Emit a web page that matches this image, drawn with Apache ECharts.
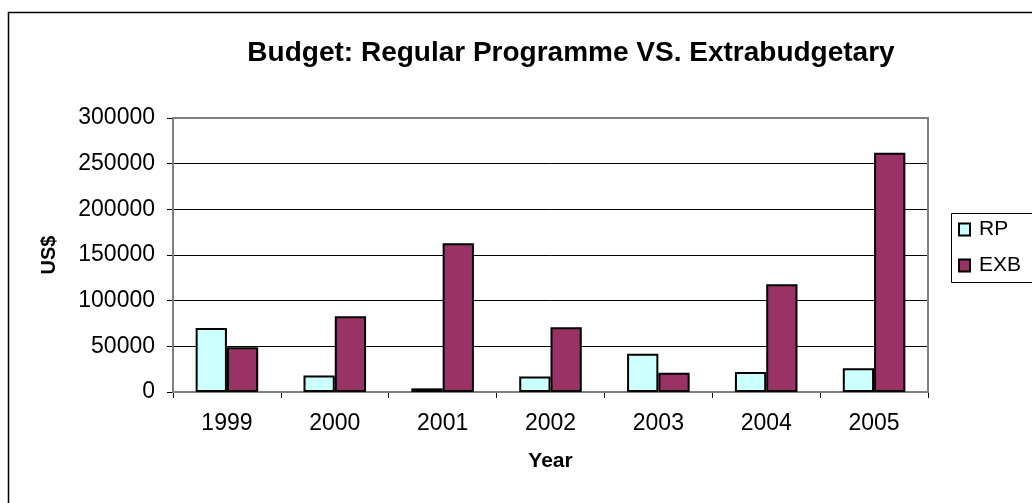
<!DOCTYPE html>
<html><head><meta charset="utf-8">
<script src="https://cdn.jsdelivr.net/npm/echarts@6/dist/echarts.min.js"></script>
<style>html,body{margin:0;padding:0;background:#fff}#c{width:1032px;height:503px}</style>
</head><body><div id="c"></div>
<script>
var categories = ['1999','2000','2001','2002','2003','2004','2005'];
var rpValues = [70000, 18000, 4000, 17000, 42000, 22000, 26000];
var exbValues = [49000, 83000, 163000, 71000, 21000, 118000, 262000];
var yTicks = [0, 50000, 100000, 150000, 200000, 250000, 300000];

var chart = echarts.init(document.getElementById('c'));
var font = 'Arial, "Liberation Sans", sans-serif';
chart.setOption({
  animation: false,
  textStyle: {fontFamily: font},
  title: {
    text: 'Budget: Regular Programme VS. Extrabudgetary',
    left: 571, top: 39, textAlign: 'center', padding: 0,
    textStyle: {fontSize: 28, fontWeight: 'bold', color: '#000', fontFamily: font}
  },
  legend: {
    orient: 'vertical', left: 958, top: 219, padding: 0, itemWidth: 11, itemHeight: 12, itemGap: 15,
    icon: 'rect',
    textStyle: {fontSize: 21, color: '#000', fontFamily: font, padding: [0,0,0,4]},
    data: [{name:'RP', itemStyle:{borderColor:'#000', borderWidth:2}}, {name:'EXB', itemStyle:{borderColor:'#000', borderWidth:2}}]
  },
  graphic: [
    {type:'rect', shape:{x:8.5, y:12.5, width:1100, height:600}, style:{fill:'none', stroke:'#000', lineWidth:1.5}, silent:true, z:-1},
    {type:'rect', shape:{x:951.5, y:213.5, width:200, height:69}, style:{fill:'#fff', stroke:'#000', lineWidth:1}, silent:true, z:-1},
    {type:'rect', shape:{x:173, y:118, width:755, height:274}, style:{fill:'none', stroke:'#808080', lineWidth:2}, silent:true, z:1}
  ],
  grid: {left: 173, right: 104, top: 118, bottom: 111, containLabel: false},
  xAxis: {
    type: 'category', data: categories,
    name: 'Year', nameLocation: 'middle', nameGap: 59,
    nameTextStyle: {fontSize: 21, fontWeight: 'bold', color: '#000', fontFamily: font},
    axisLine: {lineStyle: {color: '#808080', width: 2}},
    axisTick: {show: true, length: 6, lineStyle: {color: '#000'}},
    axisLabel: {fontSize: 23, color: '#000', margin: 20, fontFamily: font}
  },
  yAxis: {
    type: 'value', min: 0, max: 300000, interval: 50000,
    name: 'US$', nameLocation: 'middle', nameGap: 114,
    nameTextStyle: {fontSize: 20, fontWeight: 'bold', color: '#000', fontFamily: font},
    axisLine: {show: true, lineStyle: {color: '#808080', width: 2}},
    axisTick: {show: true, length: 6, lineStyle: {color: '#000'}},
    axisLabel: {fontSize: 23, color: '#000', margin: 18, fontFamily: font,
      formatter: function(v){ return yTicks.indexOf(v) >= 0 ? String(v) : ''; }},
    splitLine: {show: true, lineStyle: {color: '#000', width: 1}}
  },
  series: [
    {name: 'RP', type: 'bar', data: rpValues, barGap: '0%', barCategoryGap: '42%',
     itemStyle: {color: '#CCFFFF', borderColor: '#000', borderWidth: 2}},
    {name: 'EXB', type: 'bar', data: exbValues, barGap: '0%', barCategoryGap: '42%',
     itemStyle: {color: '#993366', borderColor: '#000', borderWidth: 2}}
  ]
});
</script></body></html>
